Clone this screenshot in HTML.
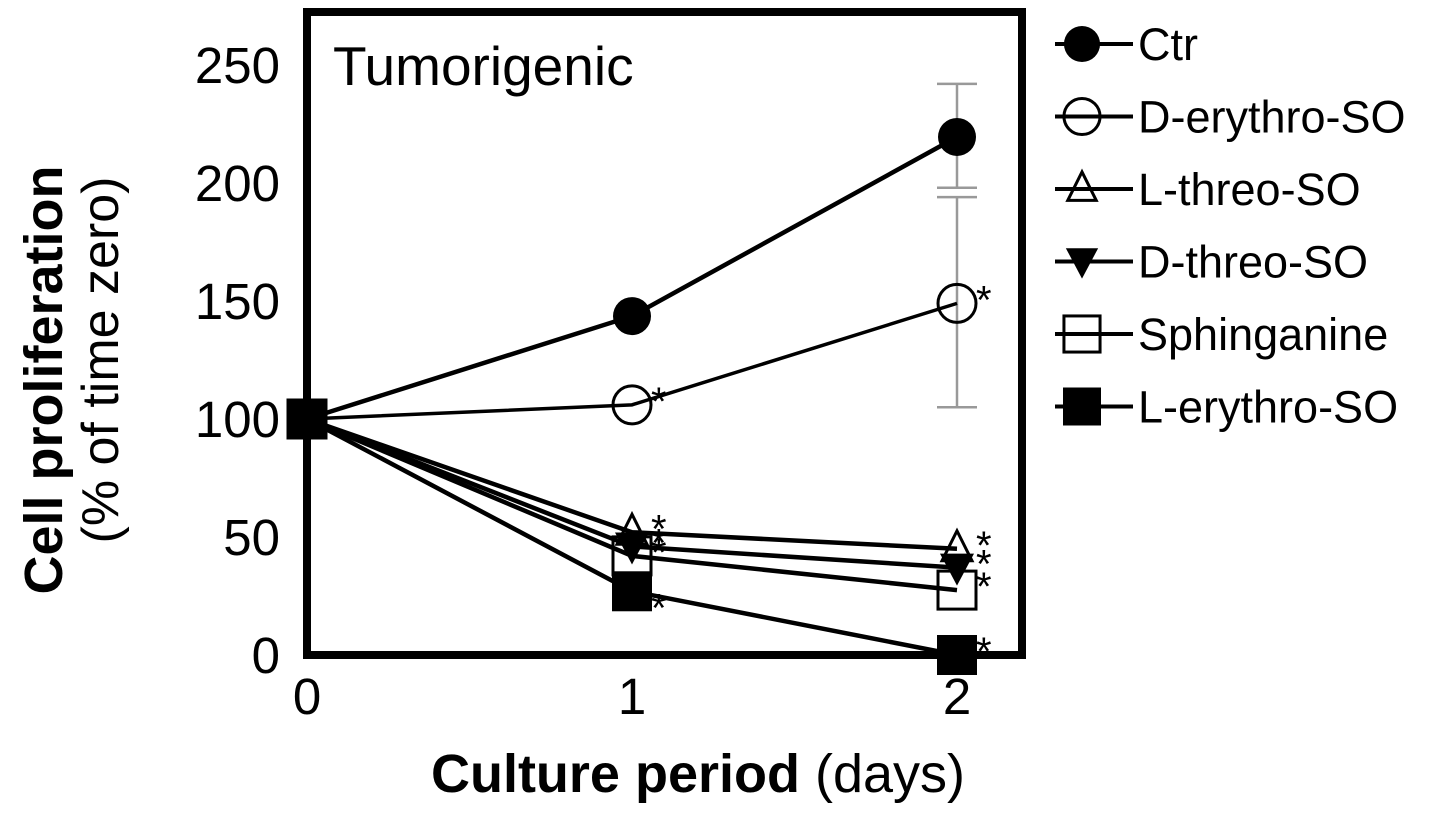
<!DOCTYPE html>
<html><head><meta charset="utf-8"><style>
body{margin:0;background:#fff;}
svg{display:block;font-family:"Liberation Sans",Arial,sans-serif;}
</style></head><body>
<svg id="c" width="1441" height="816" viewBox="0 0 1441 816">
<rect x="307" y="12" width="715" height="643" fill="none" stroke="#000" stroke-width="8"/>
<text x="333" y="85" font-size="55">Tumorigenic</text>
<g id="axes"></g>
<g id="series"></g>
<g id="legend"></g>
<text x="698" y="792" font-size="54" text-anchor="middle"><tspan font-weight="bold">Culture period</tspan> (days)</text>
<text transform="translate(62,380) rotate(-90)" font-size="54" font-weight="bold" text-anchor="middle">Cell proliferation</text>
<text transform="translate(118,360) rotate(-90)" font-size="52" text-anchor="middle">(% of time zero)</text>
</svg>
<script>
const days=[0,1,2];
const yTicks=[0,50,100,150,200,250];
const seriesNames=["Ctr","D-erythro-SO","L-threo-SO","D-threo-SO","Sphinganine","L-erythro-SO"];
const ctr=[100,143.6,219.5];
const dErythro=[100,106,149];
const lThreo=[100,52,45];
const dThreo=[100,46,37];
const sphinganine=[100,42,27.5];
const lErythro=[100,27,0];
const ctrErr=[[0,0],[0,0],[198,242]];
const dErythroErr=[[0,0],[0,0],[105,194]];
const markers=["fcircle","ocircle","otri","fdtri","osq","fsq"];
const NS="http://www.w3.org/2000/svg";
const X=d=>307+d*325, Y=v=>655-v*2.36;
function mk(t,a,p){const e=document.createElementNS(NS,t);for(const k in a)e.setAttribute(k,a[k]);p.appendChild(e);return e;}
const ax=document.getElementById('axes');
yTicks.forEach(t=>{const e=mk('text',{x:280,y:Y(t)+18,'font-size':51,'text-anchor':'end'},ax);e.textContent=t;

});
days.forEach(d=>{const e=mk('text',{x:X(d),y:714,'font-size':51,'text-anchor':'middle'},ax);e.textContent=d;

});
function marker(type,cx,cy,p,s){s=s||1;let e;
if(type=="fcircle")e=mk('circle',{cx,cy,r:19*s,fill:'#000'},p);
else if(type=="ocircle")e=mk('circle',{cx,cy,r:19*s,fill:'none',stroke:'#000','stroke-width':3},p);
else if(type=="otri")e=mk('polygon',{points:`${cx},${cy-18*s} ${cx-15*s},${cy+12*s} ${cx+15*s},${cy+12*s}`,fill:'none',stroke:'#000','stroke-width':3},p);
else if(type=="fdtri")e=mk('polygon',{points:`${cx-17*s},${cy-14*s} ${cx+17*s},${cy-14*s} ${cx},${cy+18*s}`,fill:'#000'},p);
else if(type=="osq")e=mk('rect',{x:cx-19*s,y:cy-19*s,width:38*s,height:38*s,fill:'none',stroke:'#000','stroke-width':3},p);
else e=mk('rect',{x:cx-20*s,y:cy-20*s,width:40*s,height:40*s,fill:'#000'},p);
return e;}
const sg=document.getElementById('series');
const all=[ctr,dErythro,lThreo,dThreo,sphinganine,lErythro];
[[ctrErr,ctr],[dErythroErr,dErythro]].forEach(([err,vals])=>{err.forEach((r,i)=>{if(r[0]===r[1])return;
const l=mk('path',{d:`M${X(i)},${Y(r[0])}V${Y(r[1])}M${X(i)-20},${Y(r[0])}h40M${X(i)-20},${Y(r[1])}h40`,stroke:'#999','stroke-width':2.5,fill:'none'},sg);

});});
all.forEach((vals,si)=>{const g=mk('g',{},sg);


const pl=mk('polyline',{points:vals.map((v,i)=>X(days[i])+','+Y(v)).join(' '),fill:'none',stroke:'#000','stroke-width':si==1?3.5:4.5},g);


vals.forEach((v,i)=>{const m=marker(markers[si],X(days[i]),Y(v),g);


if(i>0&&si>0){const s=mk('text',{x:X(days[i])+19,y:Y(v)+(si==5&&i==1?30:10),'font-size':40},g);s.textContent='*';

}});});
const lg=document.getElementById('legend');
seriesNames.forEach((n,i)=>{const y=44+i*72.5;const g=mk('g',{},lg);


mk('line',{x1:1055,x2:1133,y1:y,y2:y,stroke:'#000','stroke-width':4},g);
marker(markers[i],1082,y,g,0.95);
const t=mk('text',{x:1138,y:y+16,'font-size':45},g);t.textContent=n;});
</script>
</body></html>
